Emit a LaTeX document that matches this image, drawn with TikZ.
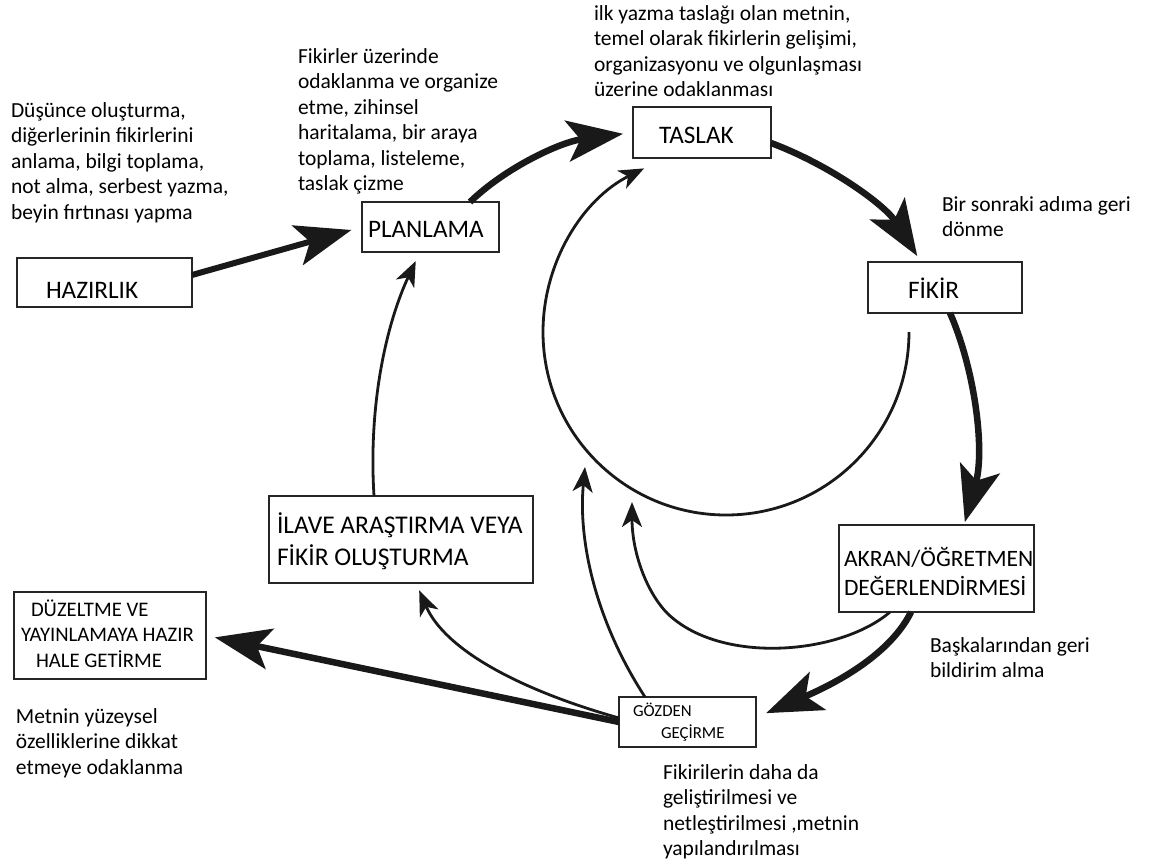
\documentclass[tikz,border=0pt]{standalone}
\usepackage{fontspec}
\setmainfont{Carlito}
\usetikzlibrary{arrows.meta}
\newcommand\mlines[1]{\begin{tabular}[t]{@{}l@{}}#1\end{tabular}}
\begin{document}
\begin{tikzpicture}[x=1pt,y=-1pt,
 box/.style={draw=black!85, line width=1.6pt, inner ysep=0pt, outer sep=0pt, anchor=base west},
 lab/.style={font=\fontsize{25.2}{29}\selectfont},
 note/.style={inner sep=0pt, outer sep=0pt, anchor=base west, font=\fontsize{21.5}{25.5}\selectfont},
 thickarr/.style={line width=6.5pt, draw=black!90, -{Stealth[length=56pt,width=41pt,inset=13pt]}},
 thinarr/.style={line width=2.8pt, draw=black!90, -{Stealth[length=25pt,width=20pt,inset=7pt]}},
]
\fill[white] (0,0) rectangle (1161,865);
\useasboundingbox (0,0) rectangle (1161,865);

% boxes
\node[box, lab, inner xsep=29pt, text height=40pt, text depth=9pt] (haz) at (17,298) {\makebox[117pt][l]{HAZIRLIK}};
\node[box, lab, inner xsep=6pt, text height=35pt, text depth=15pt] (plan) at (362,237) {\makebox[125pt][l]{PLANLAMA}};
\node[box, lab, inner xsep=26pt, text height=36pt, text depth=15pt] (tas) at (633,143) {\makebox[86pt][l]{TASLAK}};
\node[box, lab, inner xsep=40pt, text height=36pt, text depth=15pt] (fik) at (868,298) {\makebox[74pt][l]{FİKİR}};
\node[box, font=\fontsize{23.5}{29}\selectfont, inner xsep=5pt, text height=41pt, text depth=46pt] (akr) at (839,566) {\makebox[185pt][l]{\mlines{AKRAN/ÖĞRETMEN\\DEĞERLENDİRMESİ}}};
\node[box, font=\fontsize{16.8}{22}\selectfont, inner xsep=14pt, text height=19pt, text depth=31pt] (goz) at (619,716) {\makebox[109pt][l]{\mlines{GÖZDEN\\\hspace*{28pt}GEÇİRME}}};
\node[box, font=\fontsize{25.5}{32}\selectfont, inner xsep=8pt, text height=37pt, text depth=50pt] (ila) at (269,533) {\makebox[248pt][l]{\mlines{İLAVE ARAŞTIRMA VEYA\\FİKİR OLUŞTURMA}}};
\node[box, font=\fontsize{20.7}{25.5}\selectfont, inner xsep=7pt, text height=24pt, text depth=63pt] (duz) at (14,616) {\makebox[178pt][l]{\mlines{\hspace*{10pt}DÜZELTME VE\\YAYINLAMAYA HAZIR\\\hspace*{15pt}HALE GETİRME}}};

% notes
\node[note] (n1) at (11,117) {\mlines{Düşünce oluşturma,\\diğerlerinin fikirlerini\\anlama, bilgi toplama,\\not alma, serbest yazma,\\beyin fırtınası yapma}};
\node[note] (n2) at (298,63) {\mlines{Fikirler üzerinde\\odaklanma ve organize\\etme, zihinsel\\haritalama, bir araya\\toplama, listeleme,\\taslak çizme}};
\node[note] (n3) at (594,20) {\mlines{ilk yazma taslağı olan metnin,\\temel olarak fikirlerin gelişimi,\\organizasyonu ve olgunlaşması\\üzerine odaklanması}};
\node[note] (n4) at (942,211) {\mlines{Bir sonraki adıma geri\\dönme}};
\node[note] (n5) at (930,652) {\mlines{Başkalarından geri\\bildirim alma}};
\node[note] (n6) at (663,779) {\mlines{Fikirilerin daha da\\geliştirilmesi ve\\netleştirilmesi ,metnin\\yapılandırılması}};
\node[note] (n7) at (16,723) {\mlines{Metnin yüzeysel\\özelliklerine dikkat\\etmeye odaklanma}};

% thick cycle
\draw[thickarr, line width=6pt, shorten >=11pt] ([yshift=7.5pt]haz.east) -- (plan.west);
\draw[thickarr, shorten >=10pt] ([xshift=39.5pt]plan.north) .. controls (505,168) and (560,142) .. (tas.west);
\draw[thickarr, shorten >=7pt] ([yshift=-10.5pt]tas.east) .. controls (830,165) and (885,205) .. ([xshift=-24pt]fik.north);
\draw[thickarr, shorten >=3pt] ([xshift=5pt]fik.south) .. controls (975,370) and (985,450) .. ([xshift=27.5pt]akr.north);
\draw[thickarr, shorten >=11pt] ([xshift=-25.5pt]akr.south) .. controls (895,645) and (855,675) .. ([yshift=4.5pt]goz.east);
\draw[thickarr, shorten >=9pt] (goz.west) -- (duz.east);

% thin arrows
\draw[thinarr, shorten >=8pt] ([yshift=4pt]goz.west) .. controls (520,690) and (445,650) .. ([xshift=15pt]ila.south);
\draw[thinarr, shorten >=10pt] ([xshift=-27pt]ila.north) .. controls (368,400) and (388,320) .. ([xshift=-10.5pt]plan.south);
\coordinate (cs) at (909,332);
\draw[thinarr] (cs) arc[start angle=0, end angle=243.4, radius=183];
\coordinate (e10) at (632,502);
\draw[thinarr] ([xshift=-46.5pt]akr.south) .. controls (840,655) and (720,665) .. (667,613) .. controls (645,590) and (632,550) .. (e10);
\coordinate (e11) at (585,467);
\draw[thinarr] ([xshift=-42.5pt]goz.north) .. controls (595,620) and (578,540) .. (e11);
\end{tikzpicture}
\end{document}
